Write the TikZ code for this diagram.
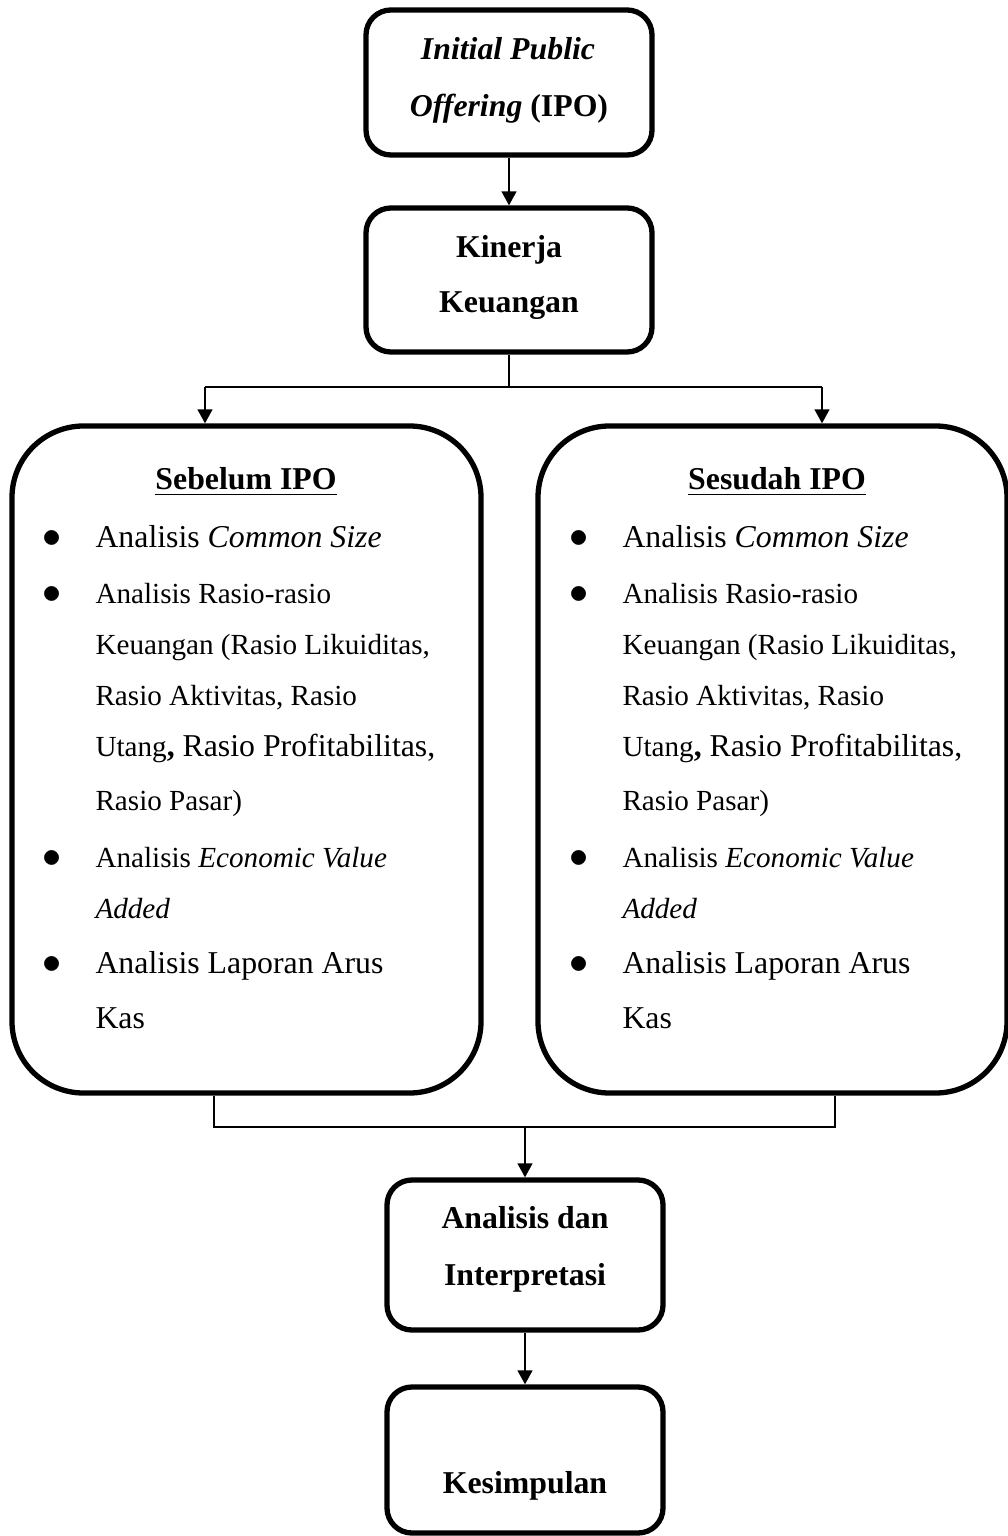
\documentclass[tikz,border=0pt]{standalone}
\usepackage{fontspec}
\setmainfont{Liberation Serif}
\usetikzlibrary{arrows.meta}
\newlength{\px}
\setlength{\px}{0.3774pt}
\newcommand{\sebelas}{\fontsize{11}{13}\selectfont}
\newcommand{\duabelas}{\fontsize{12}{14}\selectfont}
\tikzset{
  kotak/.style={draw, line width=2pt, rounded corners=9.4pt, inner sep=0pt,
    minimum width=286*\px, minimum height=145*\px},
  kotakbesar/.style={kotak, rounded corners=27pt,
    minimum width=469*\px, minimum height=667*\px},
  teks/.style={anchor=base, inner sep=0pt, font=\sebelas},
  titik/.style={anchor=base, inner sep=0pt, font=\fontsize{15}{15}\selectfont},
  judul/.style={teks, font=\duabelas\bfseries},
  garis/.style={line width=0.75pt},
  panah/.style={garis, -{Triangle[length=5.3pt,width=5.6pt]}}
}
\begin{document}
\begin{tikzpicture}[x=\px,y=-\px]
  \useasboundingbox (0,0) rectangle (1008,1536);
  % kotak atas
  \node[kotak] (ipo) at (509,82.5) {};
  \node[judul] (ipo-1) at (508,60) {\textit{Initial Public}};
  \node[judul] (ipo-2) at (509,117) {\textit{Offering} (IPO)};
  \node[kotak, minimum height=144*\px] (kinerja) at (509,280) {};
  \node[judul] (kinerja-1) at (509,258) {Kinerja};
  \node[judul] (kinerja-2) at (509,313) {Keuangan};
  \draw[panah] (ipo) -- (kinerja);
  % sebelum dan sesudah
  \foreach \bx/\tx/\dx/\judul/\nama in {246.5/246/0/Sebelum IPO/sebelum, 772.5/777/527/Sesudah IPO/sesudah}{
    \node[kotakbesar] (\nama) at (\bx,759.5) {};
    \node[judul] (\nama-judul) at (\tx,490) {\underline{\judul}};
    \foreach \yy/\isi [count=\i] in {
        547/{\duabelas Analisis \textit{Common Size}},
        603/{Analisis Rasio-rasio},
        654/{Keuangan (Rasio Likuiditas,},
        705/{Rasio Aktivitas, Rasio},
        756/{Utang{\duabelas\textbf{,} Rasio Profitabilitas,}},
        810/{Rasio Pasar)},
        867/{Analisis \textit{Economic Value}},
        918/{\textit{Added}},
        973/{\duabelas Analisis Laporan Arus},
        1028/{\duabelas Kas}}
      \node[teks, anchor=base west] (\nama-\i) at (95+\dx,\yy) {\isi};
    \foreach \yy [count=\i] in {547,603,867,973}
      \node[titik] (\nama-b\i) at (52+\dx,\yy) {$\bullet$};
  }
  \coordinate (pisahL) at (205,387);
  \coordinate (pisahR) at (822,387);
  \draw[garis] (kinerja.south) -- (kinerja.south |- pisahL);
  \draw[garis] (pisahL) -- (pisahR);
  \draw[panah] (pisahL) -- (pisahL |- sebelum.north);
  \draw[panah] (pisahR) -- (pisahR |- sesudah.north);
  % kotak bawah
  \node[kotak, minimum width=276*\px, minimum height=150*\px] (analisis) at (525,1255) {};
  \node[judul] (analisis-1) at (525,1228) {Analisis dan};
  \node[judul] (analisis-2) at (525,1285) {Interpretasi};
  \node[kotak, minimum width=276*\px, minimum height=146*\px] (kesimpulan) at (525,1460) {};
  \node[judul] (kesimpulan-1) at (525,1493) {Kesimpulan};
  \coordinate (gabungL) at (214,1127);
  \coordinate (gabungR) at (835,1127);
  \draw[garis] (gabungL |- sebelum.south) -- (gabungL) -- (gabungR) -- (gabungR |- sesudah.south);
  \draw[panah] (gabungL -| analisis.north) -- (analisis.north);
  \draw[panah] (analisis) -- (kesimpulan);
\end{tikzpicture}
\end{document}
